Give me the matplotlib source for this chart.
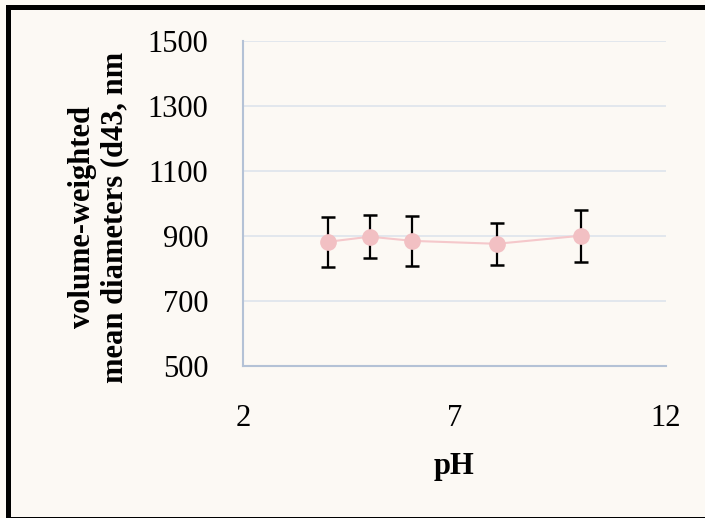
import matplotlib.pyplot as plt
from matplotlib.patches import Rectangle

ph = [4, 5, 6, 8, 10]
d43 = [882, 898, 885, 876, 901]
err = [76, 66, 76, 65, 80]

bg = '#FCF9F4'
plt.rcParams['font.family'] = ['Liberation Serif', 'DejaVu Serif']

fig = plt.figure(figsize=(7.05, 5.18), dpi=100, facecolor=bg)
ax = fig.add_axes([243 / 705, 1 - 366 / 518, 423 / 705, 325 / 518])
ax.set_facecolor(bg)

ax.errorbar(ph, d43, yerr=err, fmt='none', ecolor='black', elinewidth=1.6,
            capsize=4.8, capthick=1.8, zorder=2)
ax.plot(ph, d43, color='#F5C8CB', lw=1.5, zorder=3)
ax.plot(ph, d43, 'o', color='#F2C0C3', markersize=11, zorder=4)

ax.set_xlim(2, 12)
ax.set_ylim(500, 1500)
ax.set_xticks([2, 7, 12])
ax.set_yticks(range(500, 1501, 200))
ax.yaxis.grid(True, color='#DDE4EC', lw=1.2)
ax.set_axisbelow(True)
for s in ['top', 'right']:
    ax.spines[s].set_visible(False)
for s in ['left', 'bottom']:
    ax.spines[s].set_color('#B4C2D6')
    ax.spines[s].set_linewidth(1.5)
ax.tick_params(length=0, labelsize=22)
ax.tick_params(axis='y', pad=25)
ax.tick_params(axis='x', pad=27)

ax.set_xlabel('pH', fontsize=22, fontweight='bold')
ax.xaxis.set_label_coords(0.5, (366 - 452) / 325)
ax.set_ylabel('volume-weighted\nmean diameters (d43, nm', fontsize=22,
              fontweight='bold', linespacing=1.15)
ax.yaxis.set_label_coords((129 - 243) / 423, (366 - 217) / 325)

# outer frame, runs off the right and bottom edges like the original
fig.patches.append(Rectangle((7.5 / 705, -1 / 518), 720 / 705, 512.5 / 518,
                             transform=fig.transFigure, fill=False,
                             edgecolor='black', lw=3.6))

fig.savefig('out.png', dpi=100, facecolor=bg)
